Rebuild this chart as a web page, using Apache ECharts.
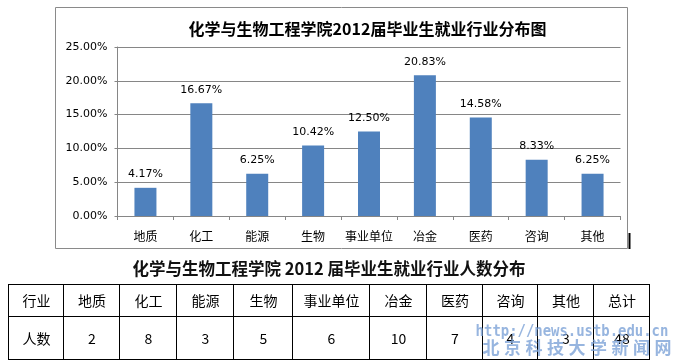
<!DOCTYPE html>
<html><head><meta charset="utf-8">
<script src="https://cdn.jsdelivr.net/npm/echarts@6/dist/echarts.min.js"></script>
<style>html,body{margin:0;padding:0;background:#fff}#c{width:673px;height:362px}</style>
</head><body><div id="c"></div>
<script>
const chartTitle = '化学与生物工程学院2012届毕业生就业行业分布图';
const tableTitle = '化学与生物工程学院 2012 届毕业生就业行业人数分布';
const categories = ['地质','化工','能源','生物','事业单位','冶金','医药','咨询','其他'];
const percentValues = [4.17, 16.67, 6.25, 10.42, 12.50, 20.83, 14.58, 8.33, 6.25];
const headCounts = [2, 8, 3, 5, 6, 10, 7, 4, 3];
const totalCount = 48;
const rowHeaders = ['行业','人数'];
const totalHeader = '总计';
const yTicks = [0, 5, 10, 15, 20, 25];

const chart = echarts.init(document.getElementById('c'), null, {renderer:'canvas'});
const cjk = '"Noto Sans CJK SC", "DejaVu Sans", sans-serif';

// table layout
const colEdges = [8, 63, 119, 176, 233, 292, 369, 426, 482, 537, 593, 649];
const rowEdges = [284, 316, 359];
const headerRow = [rowHeaders[0]].concat(categories, [totalHeader]);
const dataRow = [rowHeaders[1]].concat(headCounts.map(String), [String(totalCount)]);
const g = [];
// chart frame
g.push({type:'rect', shape:{x:55.5,y:7.5,width:572,height:241}, style:{fill:'none',stroke:'#8a8a8a',lineWidth:1}, z:-1, silent:true});
g.push({type:'rect', shape:{x:628.5,y:233,width:2,height:16}, style:{fill:'#000'}, silent:true});
g.push({type:'text', x:367.5, y:29, style:{text:chartTitle, font:'bold 16px '+cjk, fill:'#000', textAlign:'center', textVerticalAlign:'middle'}});
g.push({type:'text', x:329, y:269, style:{text:tableTitle, font:'bold 16.5px '+cjk, fill:'#111', textAlign:'center', textVerticalAlign:'middle'}});
// table grid
const L = colEdges[0], R = colEdges[colEdges.length-1];
rowEdges.forEach(y => g.push({type:'line', shape:{x1:L,y1:y+0.5,x2:R+1,y2:y+0.5}, style:{stroke:'#000',lineWidth:1}}));
colEdges.forEach(x => g.push({type:'line', shape:{x1:x+0.5,y1:rowEdges[0],x2:x+0.5,y2:rowEdges[2]+1}, style:{stroke:'#000',lineWidth:1}}));
[headerRow, dataRow].forEach((row, r) => {
  const cy = (rowEdges[r] + rowEdges[r+1]) / 2 + 1;
  row.forEach((t, i) => {
    const cx = (colEdges[i] + colEdges[i+1]) / 2 + 1;
    g.push({type:'text', x:cx, y:cy, style:{text:t, font:'14px '+cjk, fill:'#000', textAlign:'center', textVerticalAlign:'middle'}});
  });
});
// watermark
g.push({type:'text', x:572, y:332, scaleX:0.87, z:100, style:{text:'http://news.ustb.edu.cn', font:'bold 16px "DejaVu Sans Mono", monospace', fill:'rgba(125,163,215,0.8)', textAlign:'center', textVerticalAlign:'middle'}});
const wm = '北京科技大学新闻网'.split('');
wm.forEach((ch, i) => g.push({type:'text', x:491 + i*21.5, y:348, z:100, style:{text:ch, font:'bold 17px '+cjk, fill:'rgba(125,163,215,0.8)', textAlign:'center', textVerticalAlign:'middle'}}));

chart.setOption({
  animation:false,
  backgroundColor:'#fff',
  grid:{left:117.5, right:52.5, top:47, bottom:146, containLabel:false},
  xAxis:{type:'category', data:categories, boundaryGap:true,
    axisLine:{lineStyle:{color:'#868686'}},
    axisTick:{show:true, length:4, alignWithLabel:false, lineStyle:{color:'#868686'}},
    axisLabel:{margin:14, fontSize:12, color:'#000', fontFamily:cjk, interval:0}},
  yAxis:{type:'value', min:yTicks[0], max:yTicks[yTicks.length-1], interval:5,
    axisLine:{show:true, lineStyle:{color:'#868686'}},
    axisTick:{show:true, length:3, lineStyle:{color:'#868686'}},
    splitLine:{lineStyle:{color:'#868686'}},
    axisLabel:{margin:10, fontSize:11, color:'#000', fontFamily:'"DejaVu Sans", sans-serif', formatter:v=>v.toFixed(2)+'%'}},
  series:[{type:'bar', data:percentValues, barWidth:22,
    itemStyle:{color:'#4F81BD'},
    label:{show:true, position:'top', distance:8, fontSize:11, color:'#000', fontFamily:'"DejaVu Sans", sans-serif', formatter:p=>p.value.toFixed(2)+'%'}}],
  graphic:g
});
</script></body></html>
